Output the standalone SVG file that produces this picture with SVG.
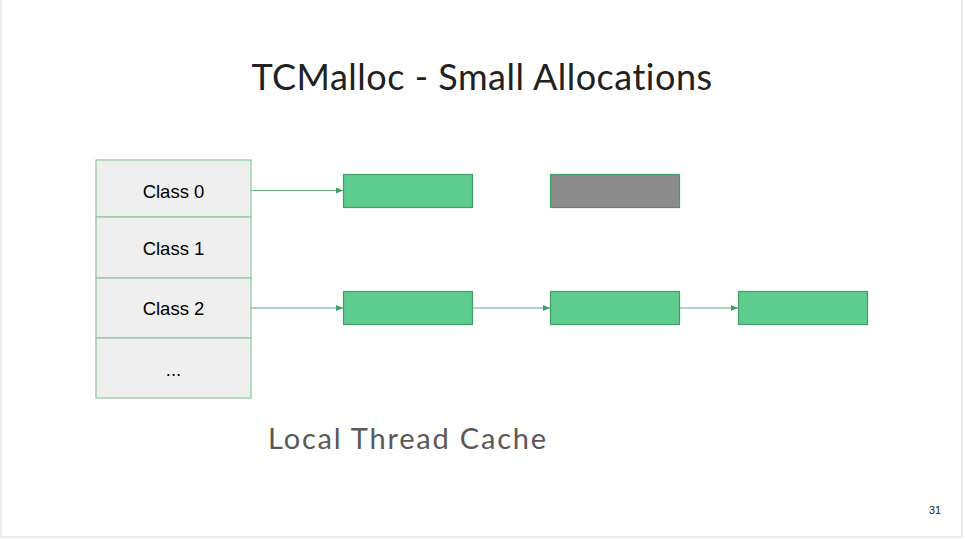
<svg xmlns="http://www.w3.org/2000/svg" width="965" height="539" viewBox="0 0 965 539">
<style>
.cell{fill:#efefef;stroke:#93c9a5;stroke-width:1.3}
.lbl{font-family:"Liberation Sans",Arial,sans-serif;font-size:18.5px;fill:#000;text-anchor:middle}
.blk{fill:#5ecb8f;stroke:#3f9d65;stroke-width:1.2}
.gry{fill:#8c8c8c;stroke:#3f9d65;stroke-width:1.2}
.con{stroke:#5fae80;stroke-width:1.2;fill:none;marker-end:url(#ah)}
.hd{font-family:Lato,'Open Sans',sans-serif;font-variant-ligatures:none}
</style>
<defs>
<marker id="ah" markerWidth="8" markerHeight="6" refX="7" refY="3" orient="auto" markerUnits="userSpaceOnUse">
<path d="M0,0 L7,3 L0,6 z" fill="#3f9d65"/>
</marker>
</defs>
<rect x="0" y="0" width="965" height="539" fill="#ffffff"/>
<rect x="1" y="-1" width="961" height="538" fill="none" stroke="#e6e6e6" stroke-width="1.5"/>
<text class="hd" x="482" y="90" font-size="36" letter-spacing="0.5" fill="#212121" text-anchor="middle">TCMalloc - Small Allocations</text>
<g id="class0"><rect class="cell" x="96" y="160" width="155" height="57"/><text class="lbl" x="173.5" y="198">Class 0</text></g>
<g id="class1"><rect class="cell" x="96" y="217" width="155" height="61"/><text class="lbl" x="173.5" y="255">Class 1</text></g>
<g id="class2"><rect class="cell" x="96" y="278" width="155" height="60"/><text class="lbl" x="173.5" y="315">Class 2</text></g>
<g id="classN"><rect class="cell" x="96" y="338" width="155" height="60"/><text class="lbl" x="173.5" y="376">...</text></g>
<g id="b00"><rect class="blk" x="343.5" y="174.5" width="129" height="33"/></g>
<g id="b01"><rect class="gry" x="550.5" y="174.5" width="129" height="33"/></g>
<g id="b20"><rect class="blk" x="343.5" y="291.5" width="129" height="33"/></g>
<g id="b21"><rect class="blk" x="550.5" y="291.5" width="129" height="33"/></g>
<g id="b22"><rect class="blk" x="738.5" y="291.5" width="129" height="33"/></g>
<g id="connectors">
<line class="con" x1="251" y1="190.5" x2="343" y2="190.5"/>
<line class="con" x1="251" y1="308" x2="343" y2="308"/>
<line class="con" x1="473" y1="308" x2="550" y2="308"/>
<line class="con" x1="680" y1="308" x2="738" y2="308"/>
</g>
<text class="hd" x="268" y="449" font-size="29" letter-spacing="1.8" fill="#595959">Local Thread Cache</text>
<text x="935" y="514" font-family="'Liberation Sans',Arial,sans-serif" font-size="11" fill="#222" text-anchor="middle">31</text>
</svg>
